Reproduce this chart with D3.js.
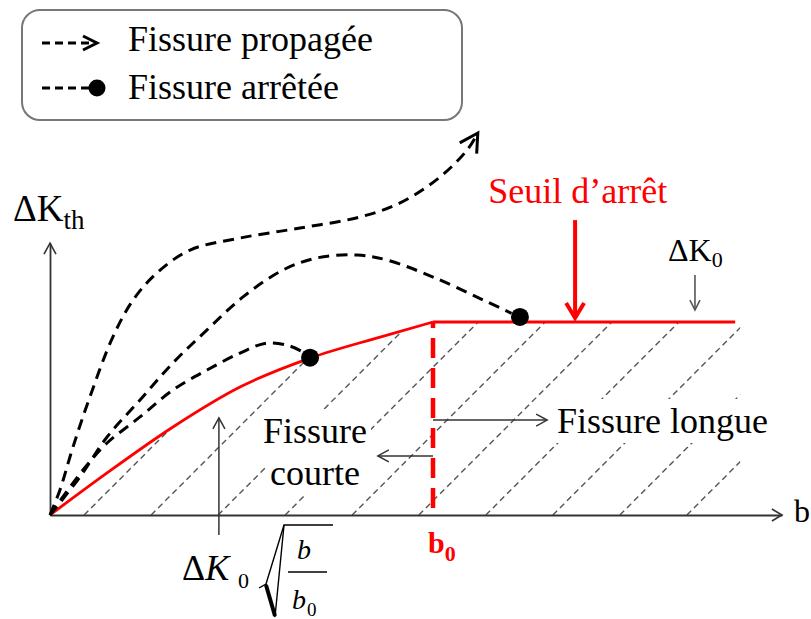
<!DOCTYPE html>
<html>
<head>
<meta charset="utf-8">
<script src="https://cdn.jsdelivr.net/npm/d3@7"></script>
<style>
  html, body { margin: 0; padding: 0; background: #fff; }
  svg { display: block; font-family: "Liberation Serif", "Times New Roman", serif; }
</style>
</head>
<body>
<svg id="chart" width="811" height="619"></svg>
<script>
// b in units of b0, dK in units of dK0
var legendLabels = ["Fissure propagée", "Fissure arrêtée"];
var thresholdCurve = [[0, 0], [0.149, 0.218], [0.321, 0.456], [0.496, 0.663], [0.679, 0.813], [0.862, 0.922], [1, 1]];
var longCrackEnd = 1.789;
var hatchEnd = 1.802;
var axisEnds = [1.911, 1.409];

var propagatedPath = [[0, 0], [0.026, 0.130], [0.060, 0.352], [0.104, 0.611], [0.164, 0.922], [0.217, 1.114],
  [0.279, 1.254], [0.366, 1.373], [0.496, 1.435], [0.653, 1.487], [0.809, 1.544], [0.914, 1.617],
  [1.018, 1.751], [1.089, 1.891], [1.117, 1.979]];
var arrestedPaths = [
  [[0, 0], [0.086, 0.233], [0.149, 0.373], [0.235, 0.508], [0.321, 0.648], [0.410, 0.751], [0.496, 0.839],
   [0.567, 0.891], [0.627, 0.875], [0.660, 0.845]],
  [[0, 0], [0.078, 0.197], [0.149, 0.404], [0.235, 0.596], [0.321, 0.788], [0.410, 0.959], [0.504, 1.130],
   [0.608, 1.269], [0.697, 1.332], [0.802, 1.347], [0.880, 1.321], [1.0, 1.233], [1.131, 1.114], [1.205, 1.045]]
];
var arrestPoints = [[0.679, 0.815], [1.227, 1.026]];
var hatchStarts = [0.089, 0.264, 0.439, 0.614, 0.789, 0.963, 1.138, 1.313, 1.488, 1.663];

var svg = d3.select("#chart");
var x = d3.scaleLinear().domain([0, 1]).range([50, 433]);
var y = d3.scaleLinear().domain([0, 1]).range([515, 322]);

function chevron(g, tx, ty, ang, len, half, color, width) {
  var bx = tx - len * Math.cos(ang), by = ty - len * Math.sin(ang);
  var px = -Math.sin(ang) * half, py = Math.cos(ang) * half;
  g.append("path")
    .attr("d", "M" + (bx + px) + "," + (by + py) + "L" + tx + "," + ty + "L" + (bx - px) + "," + (by - py))
    .attr("fill", "none").attr("stroke", color).attr("stroke-width", width);
}
function arrow(g, x1, y1, x2, y2, color, width, len, half) {
  g.append("line").attr("x1", x1).attr("y1", y1).attr("x2", x2).attr("y2", y2)
    .attr("stroke", color).attr("stroke-width", width);
  chevron(g, x2, y2, Math.atan2(y2 - y1, x2 - x1), len, half, color, width);
}

// ---- hatching under the threshold
var line = d3.line().x(function(d){return x(d[0]);}).y(function(d){return y(d[1]);});
var redCurveD = line.curve(d3.curveMonotoneX)(thresholdCurve);
var clipD = redCurveD + "L" + x(hatchEnd) + "," + y(1) + "L" + x(hatchEnd) + "," + y(0) + "L" + x(0) + "," + y(0) + "Z";
svg.append("defs").append("clipPath").attr("id", "under").append("path").attr("d", clipD);

svg.append("g").attr("clip-path", "url(#under)")
  .selectAll("line").data(hatchStarts).enter().append("line")
  .attr("x1", function(d){return x(d);}).attr("y1", y(0))
  .attr("x2", function(d){return x(d) + 420;}).attr("y2", y(0) - 420)
  .attr("stroke", "#555").attr("stroke-width", 1.4).attr("stroke-dasharray", "6,4");

// ---- white boxes behind the region texts
var textG = svg.append("g");
function label(g, txt, px, py, opts) {
  opts = opts || {};
  return g.append("text").attr("x", px).attr("y", py)
    .attr("font-size", opts.size || 36).attr("fill", opts.color || "#000")
    .attr("text-anchor", opts.anchor || "start")
    .attr("font-style", opts.italic ? "italic" : null)
    .attr("font-weight", opts.bold ? "bold" : null)
    .text(txt);
}
var boxG = svg.append("g");

// ---- axes
var xAxisScale = d3.scaleLinear().domain([0, axisEnds[0]]).range([x(0), x(axisEnds[0])]);
var yAxisScale = d3.scaleLinear().domain([0, axisEnds[1]]).range([y(0), y(axisEnds[1])]);
var axG = svg.append("g");
axG.append("g").attr("transform", "translate(0," + y(0) + ")")
  .call(d3.axisBottom(xAxisScale).tickValues([]).tickSizeOuter(0));
axG.append("g").attr("transform", "translate(" + x(0) + ",0)")
  .call(d3.axisLeft(yAxisScale).tickValues([]).tickSizeOuter(0));
axG.selectAll(".domain").attr("stroke", "#333").attr("stroke-width", 1.8);
chevron(axG, x(axisEnds[0]), y(0), 0, 10, 6, "#333", 1.6);
chevron(axG, x(0), y(axisEnds[1]), -Math.PI / 2, 11, 6, "#333", 1.6);

// ---- threshold (red)
svg.append("path").attr("d", redCurveD).attr("fill", "none").attr("stroke", "#f00").attr("stroke-width", 2.8);
svg.append("path").attr("d", line.curve(d3.curveLinear)([[1, 1], [longCrackEnd, 1]]))
  .attr("fill", "none").attr("stroke", "#f00").attr("stroke-width", 3);
svg.append("line").attr("x1", x(1)).attr("x2", x(1)).attr("y1", y(1)).attr("y2", y(0))
  .attr("stroke", "#f00").attr("stroke-width", 4.5).attr("stroke-dasharray", "20,10").attr("stroke-dashoffset", 14);

// ---- crack paths (black dashed)
var smooth = d3.line().x(function(d){return x(d[0]);}).y(function(d){return y(d[1]);})
  .curve(d3.curveCatmullRom.alpha(0.5));
svg.append("path").attr("d", smooth(propagatedPath)).attr("fill", "none")
  .attr("stroke", "#000").attr("stroke-width", 3).attr("stroke-dasharray", "11,7");
var n = propagatedPath.length;
var tip = propagatedPath[n - 1], prev = propagatedPath[n - 2];
chevron(svg, x(tip[0]), y(tip[1]), Math.atan2(y(tip[1]) - y(prev[1]), x(tip[0]) - x(prev[0])), 18, 10, "#000", 3);

svg.selectAll(".arr").data(arrestedPaths).enter().append("path").attr("class", "arr")
  .attr("d", smooth).attr("fill", "none")
  .attr("stroke", "#000").attr("stroke-width", 3).attr("stroke-dasharray", "11,7");
svg.selectAll(".stop").data(arrestPoints).enter().append("circle").attr("class", "stop")
  .attr("cx", function(d){return x(d[0]);}).attr("cy", function(d){return y(d[1]);})
  .attr("r", 9).attr("fill", "#000");

// ---- annotations
var an = svg.append("g");
arrow(an, x(1.371), y(1.528), x(1.371), y(1.021), "#f00", 4, 15, 9);
label(an, "Seuil d\u2019arrêt", x(1.378), 203, {color: "#f00", anchor: "middle"});

arrow(an, x(1.684), y(1.244), x(1.684), y(1.062), "#555", 1.6, 10, 5);
var k0 = label(an, "\u0394K", 668, 261, {size: 32});
k0.append("tspan").attr("font-size", 22).attr("dy", 6).text("0");

var kth = label(an, "\u0394K", 13, 221, {size: 37});
kth.append("tspan").attr("font-size", 27).attr("dy", 8).text("th");

label(an, "b", 794, 522, {size: 32});
var b0 = label(an, "b", 428, 553, {size: 30, bold: true, color: "#f00"});
b0.append("tspan").attr("font-size", 22).attr("dy", 8).text("0");

// region texts with white boxes
var tLong = label(textG, "Fissure longue", 557, 433);
var tC1 = label(textG, "Fissure", 315, 443, {anchor: "middle"});
var tC2 = label(textG, "courte", 315, 485, {anchor: "middle"});
[tLong, tC1, tC2].forEach(function(t) {
  var bb = t.node().getBBox();
  boxG.append("rect").attr("x", bb.x - 4).attr("y", bb.y - 2).attr("width", bb.width + 8).attr("height", bb.height + 4)
    .attr("fill", "#fff");
});
textG.raise();

arrow(an, x(1), y(0.306), x(0.856), y(0.306), "#333", 1.5, 11, 6);
arrow(an, x(1), y(0.492), x(1.298), y(0.492), "#333", 1.5, 11, 6);
arrow(an, x(0.441), y(-0.104), x(0.441), y(0.503), "#333", 1.5, 11, 6);

// formula dK0 sqrt(b/b0)
var f = svg.append("g");
var fk = label(f, "\u0394", 182, 580, {size: 36});
fk.append("tspan").attr("font-style", "italic").text("K");
label(f, "0", 238, 588, {size: 22});
f.append("path").attr("d", "M259,588L266,584L284,525L333,525").attr("fill", "none")
  .attr("stroke", "#000").attr("stroke-width", 1.4);
f.append("path").attr("d", "M266,584L275,617L284,525").attr("fill", "none")
  .attr("stroke", "#000").attr("stroke-width", 1.4);
f.append("path").attr("d", "M266,585L275,616").attr("stroke", "#000").attr("stroke-width", 4);
label(f, "b", 297, 559, {size: 28, italic: true});
f.append("line").attr("x1", 288).attr("x2", 327).attr("y1", 572).attr("y2", 572)
  .attr("stroke", "#000").attr("stroke-width", 1.5);
label(f, "b", 292, 609, {size: 28, italic: true});
label(f, "0", 307, 616, {size: 19});

// ---- legend
var lg = svg.append("g");
lg.append("rect").attr("x", 22).attr("y", 10).attr("width", 440).attr("height", 110).attr("rx", 18)
  .attr("fill", "#fff").attr("stroke", "#777").attr("stroke-width", 2);
lg.append("line").attr("x1", 42).attr("x2", 94).attr("y1", 43).attr("y2", 43)
  .attr("stroke", "#000").attr("stroke-width", 3).attr("stroke-dasharray", "8,5");
chevron(lg, 97, 43, 0, 14, 7, "#000", 3);
lg.append("line").attr("x1", 42).attr("x2", 90).attr("y1", 88).attr("y2", 88)
  .attr("stroke", "#000").attr("stroke-width", 3).attr("stroke-dasharray", "8,5");
lg.append("circle").attr("cx", 97).attr("cy", 88).attr("r", 8.5).attr("fill", "#000");
lg.selectAll("text").data(legendLabels).enter().append("text")
  .attr("x", 128).attr("y", function(d, i){return 51 + i * 48;})
  .attr("font-size", 36).text(function(d){return d;});
</script>
</body>
</html>
